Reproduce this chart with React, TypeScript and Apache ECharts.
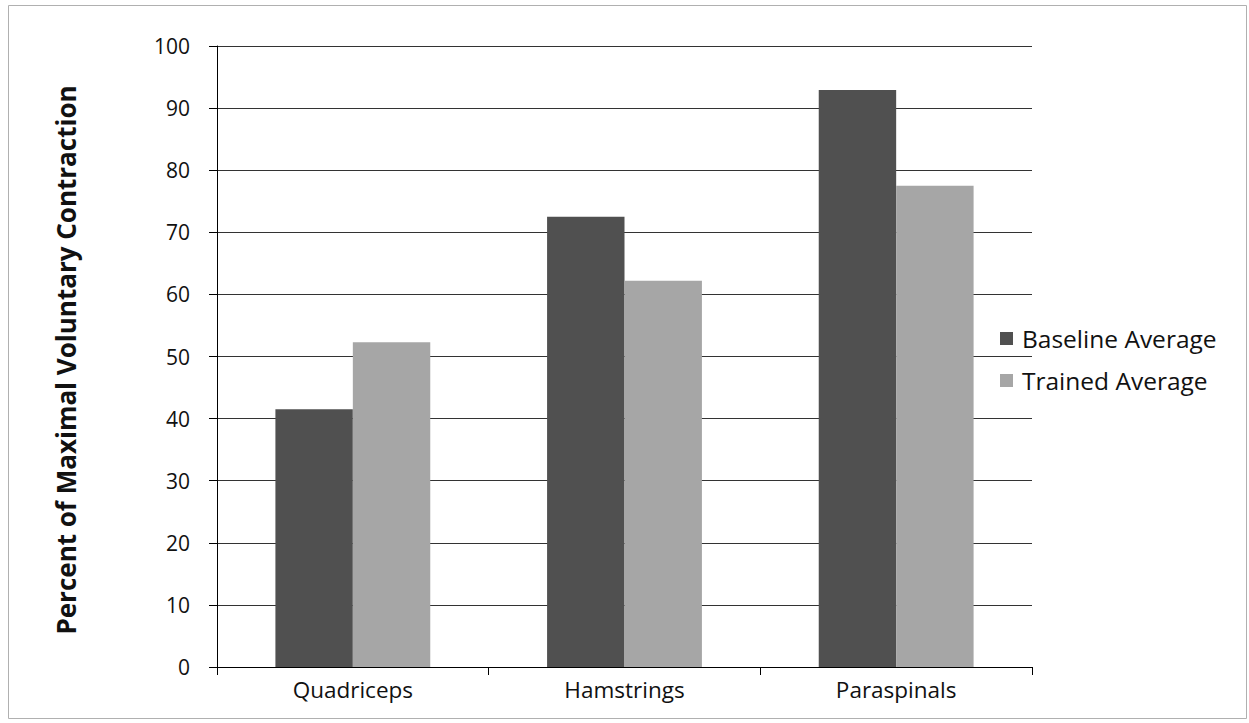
import React, { useEffect, useRef } from "react";
import * as echarts from "echarts";

const categories = ["Quadriceps", "Hamstrings", "Paraspinals"];
const baselineAverage = [41.5, 72.5, 92.9];
const trainedAverage = [52.3, 62.2, 77.5];
const seriesNames = ["Baseline Average", "Trained Average"];
const yTitle = "Percent of Maximal Voluntary Contraction";

const FONT = "'Open Sans', sans-serif";

export default function App() {
  const ref = useRef<HTMLDivElement>(null);
  useEffect(() => {
    if (!ref.current) return;
    const chart = echarts.init(ref.current, undefined, { renderer: "svg" });
    chart.setOption({
      animation: false,
      backgroundColor: "#ffffff",
      textStyle: { fontFamily: FONT },
      grid: { left: 217, right: 217, top: 46, bottom: 56, containLabel: false },
      legend: {
        orient: "vertical",
        left: 995,
        top: 321,
        itemWidth: 13,
        itemHeight: 13,
        itemGap: 17,
        icon: "rect",
        data: seriesNames,
        textStyle: { fontSize: 24.5, color: "#111", fontFamily: FONT, padding: [0, 0, 0, 4] },
      },
      xAxis: {
        type: "category",
        data: categories,
        axisLine: { lineStyle: { color: "#000", width: 1 } },
        axisTick: { show: true, length: 8, lineStyle: { color: "#000" } },
        axisLabel: { fontSize: 22.5, color: "#111", margin: 11, fontFamily: FONT },
      },
      yAxis: {
        type: "value",
        min: 0,
        max: 100,
        interval: 10,
        axisLine: { show: true, lineStyle: { color: "#000", width: 1 } },
        axisTick: { show: true, length: 8, lineStyle: { color: "#000" } },
        axisLabel: { fontSize: 21, color: "#111", margin: 27, fontFamily: FONT },
        splitLine: { show: true, lineStyle: { color: "#333", width: 1 } },
      },
      series: [
        {
          name: seriesNames[0],
          type: "bar",
          data: baselineAverage,
          barGap: "0%",
          barCategoryGap: "43%",
          itemStyle: { color: "#505050" },
        },
        {
          name: seriesNames[1],
          type: "bar",
          data: trainedAverage,
          barGap: "0%",
          barCategoryGap: "43%",
          itemStyle: { color: "#a6a6a6" },
        },
      ],
      graphic: [
        {
          type: "rect",
          shape: { x: 8.5, y: 5.5, width: 1238, height: 713 },
          style: { fill: "none", stroke: "#b0b0b0", lineWidth: 1 },
          silent: true,
        },
        {
          type: "text",
          x: 66,
          y: 360,
          rotation: Math.PI / 2,
          style: {
            text: yTitle,
            fontSize: 26,
            fontWeight: "bold",
            fontFamily: FONT,
            fill: "#111",
            align: "center",
            verticalAlign: "middle",
          },
        },
      ],
    });
    return () => chart.dispose();
  }, []);
  return (
    <div
      ref={ref}
      style={{ position: "fixed", left: 0, top: 0, width: 1249, height: 723 }}
    />
  );
}
